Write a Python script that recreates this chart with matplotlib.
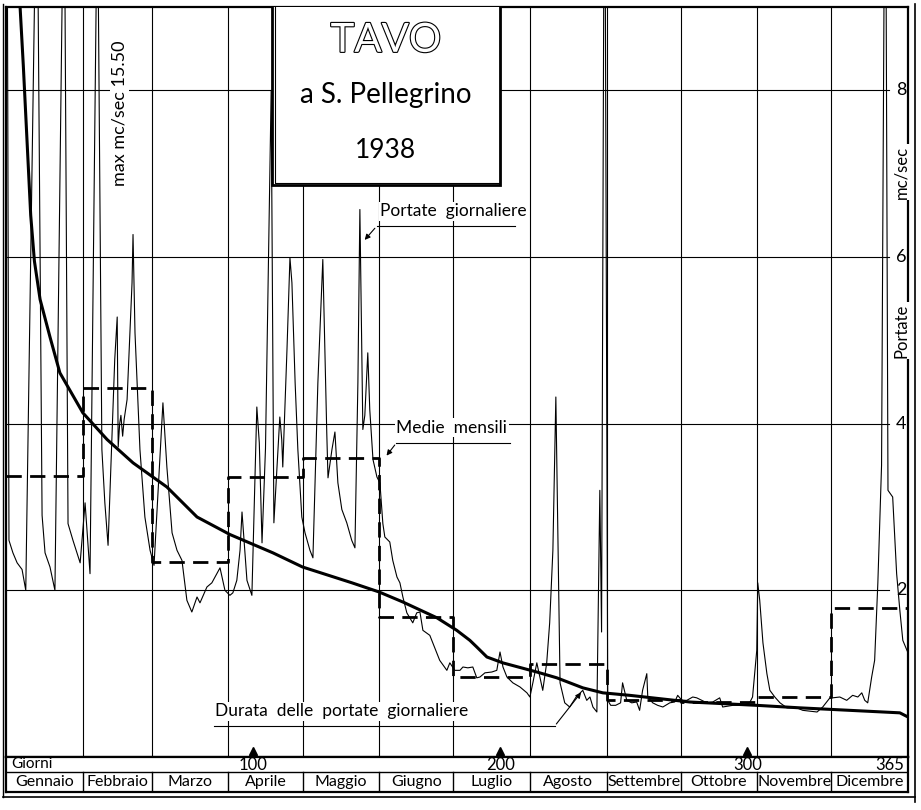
import matplotlib
matplotlib.use("Agg")
import numpy as np
import matplotlib.pyplot as plt
import matplotlib.patheffects as pe
from matplotlib.patches import Rectangle

plt.rcParams['font.family'] = ['Lato', 'DejaVu Sans']

month_names = ["Gennaio", "Febbraio", "Marzo", "Aprile", "Maggio", "Giugno",
               "Luglio", "Agosto", "Settembre", "Ottobre", "Novembre", "Dicembre"]
month_days = [31, 28, 31, 30, 31, 30, 31, 31, 30, 31, 30, 31]
monthly_mean = [3.37, 4.43, 2.34, 3.36, 3.59, 1.68, 0.96, 1.12, 0.68, 0.66, 0.72, 1.79]

# portate giornaliere (vertici)
daily_day = [0, 1.2, 2.8, 4.5, 6.5, 8.0, 12.5, 14.6, 15.8, 17.8, 19.8, 23.5, 25.1, 27.1,
             30.0, 32.0, 34.0, 37.0, 38.8, 40.0, 41.3, 44.0, 45.0, 45.4, 46.0, 46.5,
             47.2, 47.8, 49.0, 51.0, 51.4, 52.2, 54.2, 56.2, 58.3, 59.9, 63.5, 65.1,
             67.2, 69.2, 71.2, 73.2, 75.2, 77.3, 78.5, 81.3, 83.3, 86.6, 88.6, 90.6,
             91.8, 93.4, 94.7, 95.5, 97.5, 99.5, 101.5, 102.5, 103.6, 105.0, 107.3,
             108.4, 110.8, 111.6, 112.0, 113.7, 114.9, 115.7, 117.0, 118.1, 119.7,
             121.0, 123.0, 124.2, 126.2, 128.2, 129.8, 130.3, 131.9, 133.1, 134.3,
             135.9, 137.9, 139.9, 141.2, 142.4, 143.2, 144.4, 145.2, 146.4, 147.2,
             148.5, 150.1, 151.3, 152.5, 153.3, 155.3, 156.5, 158.2, 159.4, 160.6,
             162.2, 164.6, 166.2, 167.5, 168.7, 171.5, 172.7, 174.3, 175.5, 178.4,
             179.6, 181.6, 183.7, 184.9, 186.9, 188.9, 190.5, 191.8, 193.8, 196.6,
             198.6, 199.9, 201.1, 202.7, 205.1, 208.0, 210.8, 212.0, 213.2, 214.8,
             217.2, 218.8, 220.0, 221.3, 222.5, 224.2, 226.1, 228.1, 230.7, 233.4,
             235.0, 236.3, 237.5, 239.1, 240.3, 241.0, 242.2, 243.5, 244.7, 246.7,
             248.7, 249.5, 251.2, 253.2, 255.2, 256.4, 257.6, 259.3, 259.7, 261.7,
             263.7, 265.8, 268.6, 270.6, 271.8, 273.5, 275.5, 277.9, 279.5, 283.6,
             286.0, 288.8, 290.0, 294.1, 298.1, 300.9, 302.1, 303.8, 304.2, 305.0,
             306.3, 307.9, 309.1, 311.1, 313.2, 316.0, 320.0, 322.4, 328.2, 330.5,
             333.4, 334.5, 337.4, 340.2, 342.6, 344.7, 346.3, 347.5, 348.7, 350.3,
             351.5, 352.8, 354.3, 355.8, 356.9, 358.8, 360.4, 361.7, 362.9, 365.0]
daily_q = [15.5, 2.6, 2.45, 2.33, 2.25, 2.0, 11.0, 2.9, 2.45, 2.28, 2.0, 11.0, 2.8, 2.6,
           2.33, 3.05, 2.2, 10.5, 3.69, 3.05, 2.54, 4.77, 5.28, 3.72, 4.0, 4.1,
           3.85, 4.05, 4.29, 5.69, 6.27, 5.09, 3.69, 2.88, 2.48, 2.3, 4.25, 3.48,
           2.69, 2.48, 2.36, 1.88, 1.74, 1.92, 1.85, 2.04, 2.09, 2.27, 2.0, 1.94,
           1.97, 2.12, 2.48, 2.94, 2.12, 1.94, 4.2, 3.77, 2.57, 3.7, 8.0,
           2.81, 4.08, 3.8, 3.48, 4.89, 5.99, 5.69, 4.49, 3.69, 2.88,
           2.69, 2.48, 2.39, 4.49, 5.97, 3.89, 3.35, 3.69, 3.9, 3.29,
           2.97, 2.81, 2.6, 2.51, 4.5, 6.57, 3.93, 4.1, 4.85, 4.17,
           3.57, 3.36, 3.29, 2.8, 2.64, 2.58, 2.36, 2.16, 2.09, 1.92,
           1.73, 1.61, 1.73, 1.74, 1.52, 1.46, 1.37, 1.25, 1.16, 1.04,
           1.13, 1.04, 1.04, 1.08, 1.07, 1.08, 0.95, 0.96, 1.01, 1.02,
           1.04, 1.26, 1.08, 0.96, 0.89, 0.84, 0.77, 0.72, 0.89, 1.13,
           0.8, 1.13, 1.61, 2.48, 4.32, 0.89, 0.65, 0.6, 0.72, 0.80,
           0.68, 0.72, 0.60, 0.54, 3.2, 1.5, 12.0, 0.68, 0.62, 0.62,
           0.65, 0.89, 0.68, 0.65, 0.66, 0.56, 0.80, 1.0, 0.72, 0.65,
           0.62, 0.60, 0.65, 0.66, 0.74, 0.68, 0.68, 0.72, 0.71, 0.65,
           0.66, 0.71, 0.60, 0.62, 0.62, 0.65, 0.72, 1.28, 2.09, 1.88,
           1.37, 1.0, 0.80, 0.72, 0.65, 0.59, 0.59, 0.56, 0.54, 0.60,
           0.71, 0.71, 0.72, 0.68, 0.74, 0.72, 0.77, 0.68, 0.65, 0.96,
           1.16, 2.09, 3.5, 12.0, 3.2, 3.12, 2.2, 1.76, 1.4, 1.25]

# durata delle portate giornaliere
dur_day = [0, 1, 3, 5.7, 7.0, 8.5, 10.0, 11.5, 13.8, 17.8, 21.8, 31.1, 40.9, 51.4, 65.1,
           77.3, 90.6, 108, 120, 140, 151, 160.6, 174.4, 182.4, 187.7, 190.5, 194.6, 201,
           214.8, 222.9, 233.4, 241.5, 252.4, 276.7, 303.8, 321.2, 341.4, 361.7, 365]
dur_q = [15.5, 13.0, 10.5, 9.0, 8.3, 7.4, 6.5, 5.95, 5.49, 5.04, 4.61, 4.13, 3.81, 3.53,
         3.24, 2.88, 2.67, 2.45, 2.28, 2.09, 1.98, 1.86, 1.67, 1.52, 1.40, 1.32, 1.20,
         1.13, 1.02, 0.95, 0.83, 0.77, 0.74, 0.66, 0.62, 0.59, 0.56, 0.53, 0.48]

y_ticks = [2, 4, 6, 8]
day_ticks = [100, 200, 300, 365]

month_edges = np.concatenate([[0], np.cumsum(month_days)])
month_mid = (month_edges[:-1] + month_edges[1:]) / 2

fig = plt.figure(figsize=(9.21, 8.10), dpi=100)
ax = fig.add_axes([6/921, 53/810, 902/921, 750/810])
ax.set_xlim(0, 365)
ax.set_ylim(0, 9)
ax.set_xticks([])
ax.set_yticks([])
for s in ax.spines.values():
    s.set_linewidth(1.6)

# reticolo
for b in month_edges[1:-1]:
    ax.axvline(b, color="k", lw=0.8, zorder=1)
for v in y_ticks:
    ax.plot([0, 357.5], [v, v], color="k", lw=0.8, zorder=1)
    ax.text(362.3, v, str(v), ha="center", va="center", fontsize=13, zorder=6)
ax.text(362.3, 7.02, "mc/sec", rotation=90, ha="center", va="center", fontsize=12,
        bbox=dict(facecolor="white", edgecolor="none", pad=1), zorder=6)
ax.text(362.3, 5.12, "Portate", rotation=90, ha="center", va="center", fontsize=12,
        bbox=dict(facecolor="white", edgecolor="none", pad=1), zorder=6)

ax.plot(daily_day, daily_q, color="k", lw=0.8, zorder=3)
ax.plot(dur_day, dur_q, color="k", lw=2.2, zorder=4)
ax.plot(month_edges, monthly_mean + [monthly_mean[-1]], color="k", lw=2.0,
        drawstyle="steps-post", dashes=(5.5, 3), zorder=4)

ax.plot(day_ticks[:3], [0.07] * 3, ls="none", marker="^", ms=6, color="k", clip_on=False, zorder=6)

ax.text(46.1, 7.72, "max mc/sec 15.50", rotation=90, ha="center", va="center", fontsize=13,
        bbox=dict(facecolor="white", edgecolor="none", pad=1), zorder=6)

# cartiglio
bx0, bx1, by0 = 107.6, 199.8, 6.86
ax.add_patch(Rectangle((bx0, by0), bx1 - bx0, 9.2 - by0, facecolor="white",
                       edgecolor="k", lw=2.0, zorder=5))
ax.add_patch(Rectangle((bx0 + 1.3, by0 + 0.03), bx1 - bx0 - 1.3, 9.2 - by0, facecolor="none",
                       edgecolor="k", lw=0.8, zorder=5))
cx = (bx0 + bx1) / 2
ax.text(cx, 8.6, "TAVO", ha="center", va="center", fontsize=29, color="white",
        path_effects=[pe.withStroke(linewidth=1.6, foreground="k")], zorder=6)
ax.text(cx, 7.94, "a S. Pellegrino", ha="center", va="center", fontsize=20, zorder=6)
ax.text(cx, 7.28, "1938", ha="center", va="center", fontsize=19, zorder=6)

# didascalie
white = dict(facecolor="white", edgecolor="none", pad=1)
ax.text(151.3, 6.55, "Portate  giornaliere", ha="left", va="center", fontsize=12.5, bbox=white, zorder=6)
ax.plot([150.0, 206.0], [6.37, 6.37], color="k", lw=0.8, zorder=6)
ax.annotate("", xy=(144.4, 6.18), xytext=(150.0, 6.37),
            arrowprops=dict(arrowstyle="-|>", lw=0.8, color="k", mutation_scale=8), zorder=6)

ax.text(158.0, 3.95, "Medie  mensili", ha="left", va="center", fontsize=12.5, bbox=white, zorder=6)
ax.plot([158.0, 204.0], [3.77, 3.77], color="k", lw=0.8, zorder=6)
ax.annotate("", xy=(153.3, 3.59), xytext=(158.0, 3.77),
            arrowprops=dict(arrowstyle="-|>", lw=0.8, color="k", mutation_scale=8), zorder=6)

ax.text(84.5, 0.55, "Durata  delle  portate  giornaliere", ha="left", va="center", fontsize=12.5,
        bbox=white, zorder=6)
ax.plot([84.0, 222.0], [0.37, 0.37], color="k", lw=0.8, zorder=6)
ax.annotate("", xy=(233.4, 0.80), xytext=(222.0, 0.37),
            arrowprops=dict(arrowstyle="-|>", lw=0.8, color="k", mutation_scale=8), zorder=6)

# tabella giorni / mesi
tab = fig.add_axes([6/921, 18/810, 902/921, 35/810])
tab.set_xlim(0, 365)
tab.set_ylim(0, 35)
tab.set_xticks([])
tab.set_yticks([])
for s in tab.spines.values():
    s.set_linewidth(1.6)
tab.axhline(20, color="k", lw=1.0)
for b in month_edges[1:-1]:
    tab.plot([b, b], [0, 20], color="k", lw=1.0)
for m, name in zip(month_mid, month_names):
    tab.text(m, 10, name, ha="center", va="center", fontsize=11.5)
tab.text(2, 27.5, "Giorni", ha="left", va="center", fontsize=11)
for d in day_ticks[:3]:
    tab.text(d, 27.5, str(d), ha="center", va="center", fontsize=12)
tab.text(363.5, 27.5, str(day_ticks[3]), ha="right", va="center", fontsize=12)

# cornice esterna
fig.add_artist(plt.Line2D([915/921, 915/921], [8/810, 806/810], color="k", lw=1.2))
fig.add_artist(plt.Line2D([3/921, 915/921], [13/810, 13/810], color="k", lw=1.2))
fig.add_artist(plt.Line2D([3/921, 3/921], [13/810, 806/810], color="k", lw=1.0))

fig.savefig("out.png", dpi=100)
